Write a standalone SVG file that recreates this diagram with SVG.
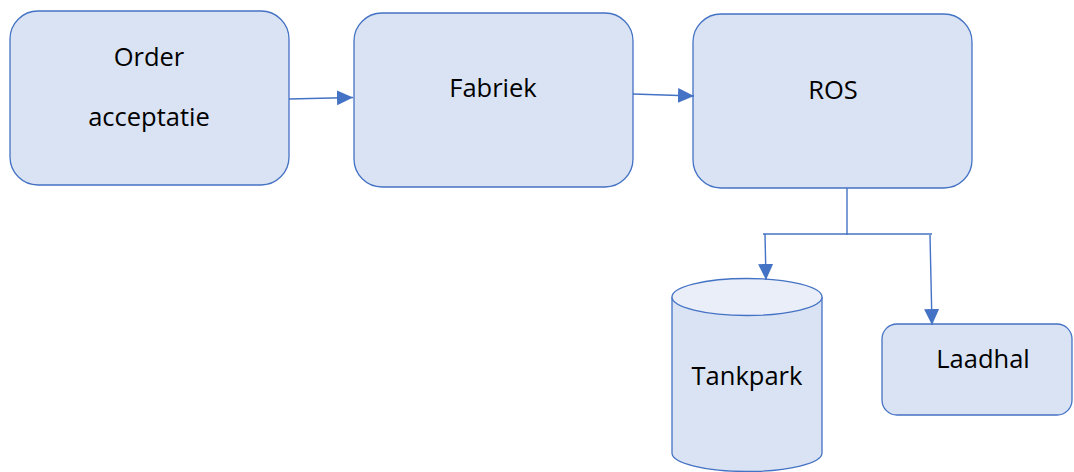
<svg xmlns="http://www.w3.org/2000/svg" width="1074" height="472" viewBox="0 0 1074 472">
  <style>
    .shape { fill: #DAE3F3; stroke: #4472C4; stroke-width: 1.3; }
    .cap { fill: #E9EEF8; stroke: #4472C4; stroke-width: 1.3; }
    .label { font-family: "Open Sans", "Noto Sans", sans-serif; font-size: 25.5px; fill: #000; text-anchor: middle; }
    .link { fill: none; stroke: #4472C4; stroke-width: 1.4; }
  </style>
  <defs>
    <marker id="arrow" markerUnits="userSpaceOnUse" markerWidth="17" markerHeight="17" viewBox="0 0 17 17" refX="16" refY="8.5" orient="auto">
      <path d="M0,1 L16,8.5 L0,16 Z" fill="#4472C4"/>
    </marker>
  </defs>
  <rect width="1074" height="472" fill="#ffffff"/>

  <g id="order-acceptatie">
    <rect class="shape" x="10" y="11" width="279" height="174" rx="28" ry="28"/>
    <text class="label" x="149" y="66">Order</text>
    <text class="label" x="149" y="126">acceptatie</text>
  </g>

  <g id="fabriek">
    <rect class="shape" x="354" y="13" width="279" height="174" rx="28" ry="28"/>
    <text class="label" x="493" y="97">Fabriek</text>
  </g>

  <g id="ros">
    <rect class="shape" x="693" y="14" width="279" height="174" rx="28" ry="28"/>
    <text class="label" x="833" y="99">ROS</text>
  </g>

  <g id="tankpark">
    <path class="shape" d="M672,297 L672,453 A75,18.5 0 0 0 822,453 L822,297"/>
    <ellipse class="cap" cx="747" cy="297" rx="75" ry="18.5"/>
    <text class="label" x="747" y="385">Tankpark</text>
  </g>

  <g id="laadhal">
    <rect class="shape" x="882" y="324" width="190" height="91" rx="15" ry="15"/>
    <text class="label" x="983" y="368">Laadhal</text>
  </g>

  <g id="connectors">
    <line class="link" x1="289" y1="99" x2="353" y2="97.5" marker-end="url(#arrow)"/>
    <line class="link" x1="633" y1="94" x2="694" y2="96" marker-end="url(#arrow)"/>
    <polyline class="link" points="847,188 847,235"/>
    <polyline class="link" points="763,234 932,234"/>
    <line class="link" x1="765" y1="234" x2="766" y2="280" marker-end="url(#arrow)"/>
    <line class="link" x1="930" y1="235" x2="932" y2="325" marker-end="url(#arrow)"/>
  </g>
</svg>
